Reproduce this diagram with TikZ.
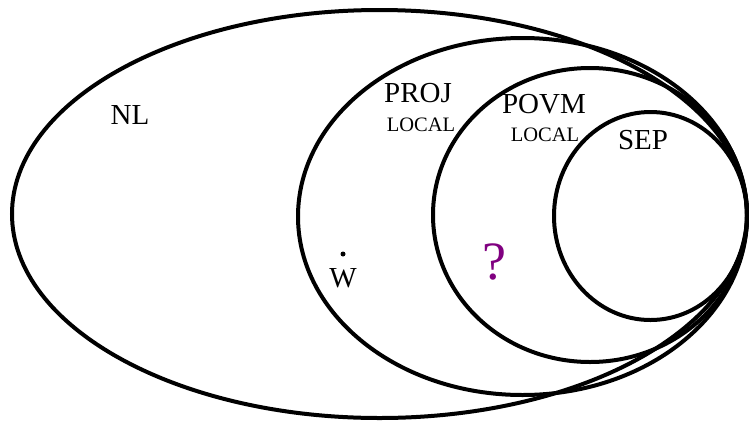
\documentclass[tikz,border=0pt]{standalone}
\usepackage{fontspec}
\setmainfont{Liberation Serif}
\definecolor{qpurple}{RGB}{128,0,128}
\begin{document}
\begin{tikzpicture}[x=1pt,y=-1pt,
  setline/.style={draw=black,line width=4pt},
  lab/.style={inner sep=0pt,font=\fontsize{29}{29}\selectfont},
  sublab/.style={inner sep=0pt,font=\fontsize{20.5}{20.5}\selectfont}]
\useasboundingbox (0,0) rectangle (749,421);
\draw[setline] (379.5,214) ellipse [x radius=367.5,y radius=204];
\draw[setline] (522.5,216.5) ellipse [x radius=224.5,y radius=178.5];
\draw[setline] (590,215) ellipse [x radius=157,y radius=147];
\draw[setline] (650.5,216) ellipse [x radius=96.5,y radius=104];
\node[lab] (nl) at (130,115) {NL};
\node[lab] (proj) at (418,93) {PROJ};
\node[sublab] (projl) at (421,125) {LOCAL};
\node[lab] (povm) at (544,104) {POVM};
\node[sublab] (povml) at (545,135) {LOCAL};
\node[lab] (sep) at (643,140) {SEP};
\node[circle,fill=black,inner sep=0pt,minimum size=5pt] (dot) at (343,254) {};
\node[lab] (w) at (343,278) {W};
\node[inner sep=0pt,text=qpurple,font=\fontsize{54}{54}\selectfont] (q) at (494,262) {?};
\end{tikzpicture}
\end{document}
